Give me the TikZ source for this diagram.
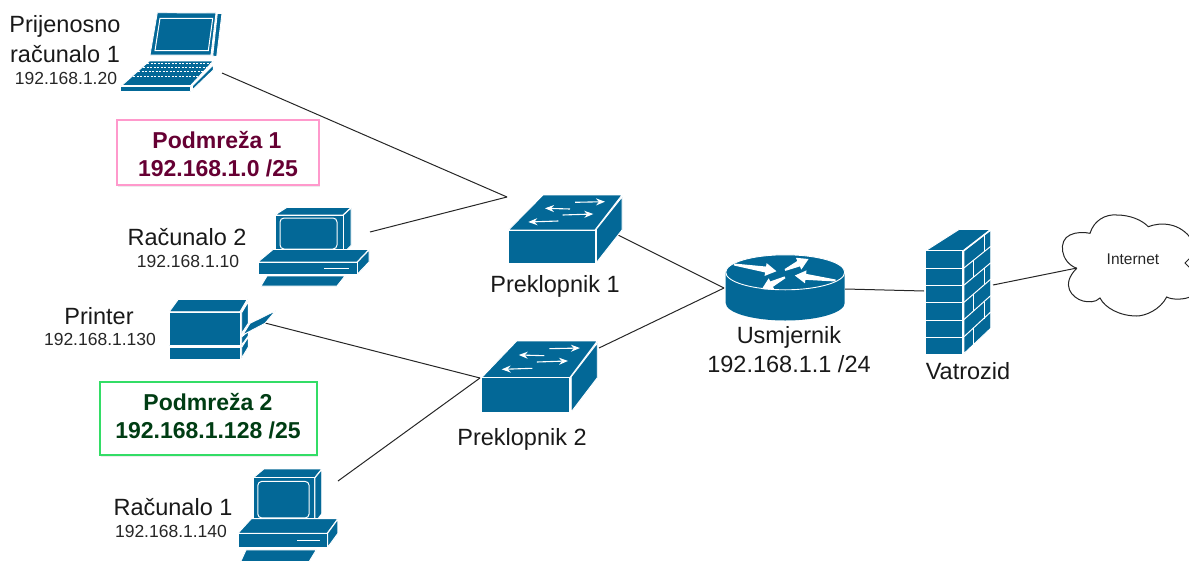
\documentclass[tikz,border=0pt]{standalone}
\usepackage{fontspec}
\setmainfont{Liberation Sans}
\usetikzlibrary{arrows.meta,shadows}

\definecolor{iconblue}{HTML}{036897}
\definecolor{subnetred}{HTML}{660033}
\definecolor{subnetgreen}{HTML}{003D14}
\definecolor{boxpink}{HTML}{FF99CC}
\definecolor{boxgreen}{HTML}{33DD66}

\newcommand{\rtarrow}[4]{%
    \fill[white, shift={(#1,#2)}, rotate=#3] (0,-1) -- (#4-11,-3) -- (#4-11,-6.5) -- (#4,0) -- (#4-11,6.5) -- (#4-11,3) -- (0,1) -- cycle;
}

\tikzset{
    icon/.style={fill=iconblue, draw=white, line width=0.9pt, line join=round},
    iconline/.style={draw=white, line width=1pt},
    link/.style={draw=black!85, line width=1pt},
    biglabel/.style={font=\fontsize{23.5}{27}\selectfont, text=black!90},
    smalllabel/.style={font=\fontsize{17.5}{21}\selectfont, text=black!85},
    subnetlabel/.style={font=\fontsize{23}{27}\selectfont\bfseries},
    subnetbox/.style={draw=#1, line width=1.2pt, fill=white, drop shadow={opacity=0.15, shadow xshift=1pt, shadow yshift=-1.5pt}},
    swarrow/.style={draw=white, line width=1.1pt, -{Stealth[length=9pt,width=7pt]}},
    pcicon/.pic={
        \path[icon] (17,7.5) -- (28.7,0) -- (93,0) -- (85,7.5) -- cycle;
        \path[icon] (17,7.5) rectangle (85,45.5);
        \path[icon] (85.5,7.5) -- (93,0.5) -- (93,38) -- (85.5,45.5) -- cycle;
        \draw[iconline, rounded corners=4pt] (22,10.5) rectangle (79,41.5);
        \path[icon] (0,54.5) -- (15,42) -- (111,42) -- (99,54.5) -- cycle;
        \path[icon] (0,54.5) rectangle (99,66.5);
        \path[icon] (99.5,54.5) -- (111,42.5) -- (111,54.5) -- (99.5,66.5) -- cycle;
        \draw[iconline] (66,60.5) -- (91,60.5);
        \path[icon] (9,68.5) -- (87,68.5) -- (79,78.5) -- (3,78.5) -- cycle;
    },
    switchicon/.pic={
        \path[icon] (0.5,35) -- (35,0) -- (114,0) -- (87,35) -- cycle;
        \path[icon] (0.5,35) rectangle (87,68);
        \path[icon] (88.5,34) -- (114,2) -- (114,35) -- (88.5,67.5) -- cycle;
        \draw[swarrow] (67,7.3) -- (97,6.7);
        \draw[swarrow] (62,14) -- (37,13.3);
        \draw[swarrow] (54.7,20) -- (85.3,19);
        \draw[swarrow] (50.3,26) -- (20.3,27);
    }
}

\begin{document}
\begin{tikzpicture}[x=1pt, y=-1pt]
    \useasboundingbox (0,0) rectangle (1189,562);

    % connector ends
    \coordinate (laptopend) at (222,73);
    \coordinate (pctwoend) at (370,232);
    \coordinate (printerend) at (265,323);
    \coordinate (pconeend) at (338,481);
    \coordinate (swonein) at (507,197);
    \coordinate (swoneout) at (618,235);
    \coordinate (swtwoin) at (480,378);
    \coordinate (swtwoout) at (599,348);
    \coordinate (routerin) at (724,288);
    \coordinate (routerout) at (845,289);
    \coordinate (wallin) at (924,291);
    \coordinate (wallout) at (993,285);
    \coordinate (cloudin) at (1077,268);

    \draw[link] (laptopend) -- (swonein);
    \draw[link] (pctwoend) -- (swonein);
    \draw[link] (printerend) -- (swtwoin);
    \draw[link] (pconeend) -- (swtwoin);
    \draw[link] (swoneout) -- (routerin);
    \draw[link] (swtwoout) -- (routerin);
    \draw[link] (routerout) -- (wallin);
    \draw[link] (wallout) -- (cloudin);

    % laptop
    \path[icon] (157.3,12.7) -- (216,13) -- (211,55) -- (150,55) -- cycle;
    \path[icon] (217.3,13.3) -- (222,13.3) -- (216.7,56.7) -- (212.7,56) -- cycle;
    \draw[iconline] (160,18.3) -- (212.7,18.3) -- (208.3,50.7) -- (155,50.7) -- cycle;
    \path[icon] (149.3,61) -- (213.3,61) -- (190.7,85.5) -- (121.7,85.5) -- cycle;
    \path[icon] (120.7,86) rectangle (190.7,91.7);
    \path[icon] (192.3,86) -- (213.3,65) -- (213.3,70) -- (192.3,90) -- cycle;
    \foreach \keyrow/\keyleft/\keyright in {63/147/211, 67/143/207, 71.5/138/203, 76/133/198}
        \draw[iconline, dash pattern=on 2pt off 1.5pt] (\keyleft,\keyrow) -- (\keyright,\keyrow);

    % computers
    \pic (pctwo) at (258,207.5) {pcicon};
    \pic[xscale=0.9, yscale=1.18] (pcone) at (238,469) {pcicon};

    % printer
    \path[icon] (169.3,311.7) -- (178.3,299.3) -- (247.3,299.3) -- (240,311.7) -- cycle;
    \path[icon] (169.3,312.7) rectangle (240,345.5);
    \path[icon] (169.3,347) rectangle (240,359);
    \path[icon] (241.7,312.7) -- (248.3,301.7) -- (248.3,323.3) -- (241.7,333.3) -- cycle;
    \path[icon] (241.7,337) -- (248.3,331) -- (248.3,336) -- (241.7,345) -- cycle;
    \path[icon] (241.7,347.3) -- (248.3,337) -- (248.3,347) -- (241.7,358) -- cycle;
    \path[icon] (242.7,335) -- (250,323.3) -- (275.7,310.7) -- (265,323.3) -- cycle;

    % switches
    \pic (swone) at (508,195) {switchicon};
    \pic[xscale=1.02, yscale=1.05] (swtwo) at (481,341) {switchicon};

    % router
    \fill[iconblue] (725.7,272.3) -- (725.7,303) arc[start angle=180, end angle=0, x radius=59.5, y radius=17.5] -- (844.7,272.3) -- cycle;
    \path[icon] (785.2,272.3) ellipse (59.5 and 17.5);
    \rtarrow{734}{264.5}{-9}{43}
    \rtarrow{785}{270}{25}{26}
    \rtarrow{835.5}{280.5}{173}{41}
    \rtarrow{785}{277.3}{207}{26}

    % firewall
    \path[icon] (925.7,250.7) -- (959.3,229.3) -- (990.7,229.3) -- (963,250.7) -- cycle;
    \path[icon] (925.7,250.7) rectangle (962.7,354);
    \path[icon] (964,250.7) -- (990.7,230) -- (990.7,328.3) -- (964,353.5) -- cycle;
    \foreach \brick in {268.3,285,302.7,320.7,337.7}
        \draw[iconline] (925.7,\brick) -- (962.7,\brick);
    \foreach \row/\joint in {0/984, 1/973.3, 2/984, 3/973.3, 4/984, 5/973.3} {
        \pgfmathsetmacro{\upfront}{250.7+\row*17.2}
        \pgfmathsetmacro{\upback}{230+\row*16.4}
        \draw[iconline] (964,\upfront) -- (990.7,\upback);
        \pgfmathsetmacro{\jointtop}{\upfront+(\upback-\upfront)*(\joint-964)/26.7}
        \draw[iconline] (\joint,\jointtop) -- (\joint,\jointtop+17);
    }

    % cloud
    \draw[link] (1076.7,268.3) .. controls (1060,262) and (1058,240) .. (1070,235)
        .. controls (1076,232) and (1084,232) .. (1090,233.3)
        .. controls (1094,220) and (1106,214) .. (1116.7,215)
        .. controls (1130,215) and (1142,220) .. (1148.3,226.7)
        .. controls (1160,222) and (1180,222) .. (1192,240);
    \draw[link] (1192,256) -- (1185,263) -- (1192,270);
    \draw[link] (1192,296) .. controls (1185,300) and (1172,300) .. (1166.7,297)
        .. controls (1160,310) and (1145,316) .. (1136.7,316)
        .. controls (1120,316) and (1105,308) .. (1100,298)
        .. controls (1095,303) and (1088,302) .. (1083,301)
        .. controls (1072,298) and (1060,285) .. (1076.7,268.3);

    % subnets
    \node[subnetbox=boxpink, minimum width=202pt, minimum height=65pt] (subnetone) at (218,152.5) {};
    \node[subnetbox=boxgreen, minimum width=217pt, minimum height=73pt] (subnettwo) at (208.5,418.5) {};
    \node[subnetlabel, text=subnetred] (subnetonename) at (217,140) {Podmreža 1};
    \node[subnetlabel, text=subnetred] (subnetoneip) at (218,168) {192.168.1.0 /25};
    \node[subnetlabel, text=subnetgreen] (subnettwoname) at (208,402) {Podmreža 2};
    \node[subnetlabel, text=subnetgreen] (subnettwoip) at (208,430) {192.168.1.128 /25};

    % labels
    \node[biglabel] (laptopname) at (65,26.5) {Prijenosno};
    \node[biglabel] (laptopnametwo) at (65,54) {računalo 1};
    \node[smalllabel] (laptopip) at (66,78) {192.168.1.20};
    \node[biglabel] (pctwoname) at (187,237) {Računalo 2};
    \node[smalllabel] (pctwoip) at (188,261) {192.168.1.10};
    \node[biglabel] (printername) at (99,316) {Printer};
    \node[smalllabel] (printerip) at (100,339) {192.168.1.130};
    \node[biglabel] (pconename) at (173,507) {Računalo 1};
    \node[smalllabel] (pconeip) at (171,531) {192.168.1.140};
    \node[biglabel] (swonename) at (555,286) {Preklopnik 1};
    \node[biglabel] (swtwoname) at (522,439) {Preklopnik 2};
    \node[biglabel] (routername) at (789,337) {Usmjernik};
    \node[biglabel] (routerip) at (789,364.5) {192.168.1.1 /24};
    \node[biglabel] (wallname) at (968,371) {Vatrozid};
    \node[font=\fontsize{15.5}{18}\selectfont, text=black!85] (cloudname) at (1133,259) {Internet};
\end{tikzpicture}
\end{document}
